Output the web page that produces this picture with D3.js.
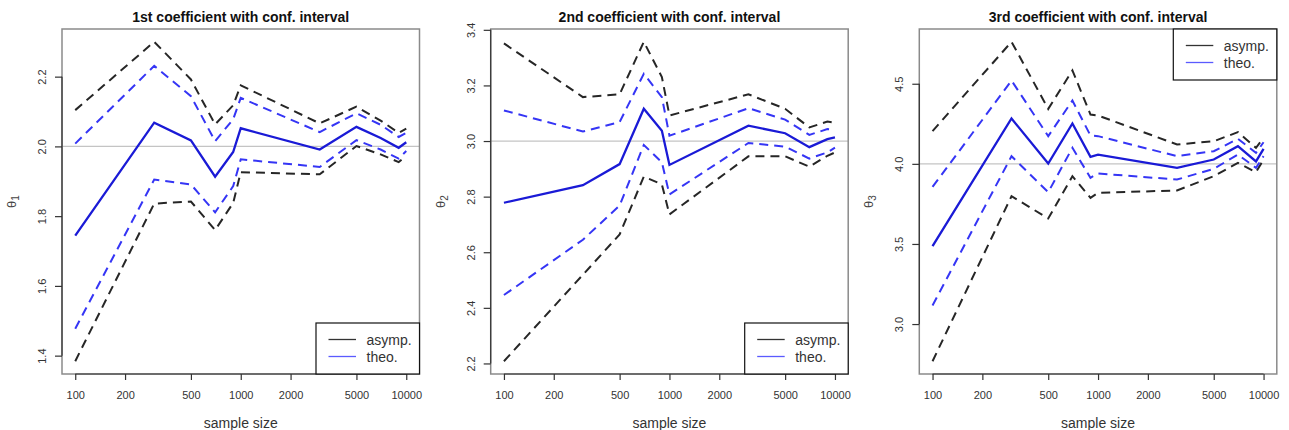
<!DOCTYPE html>
<html>
<head>
<meta charset="utf-8">
<script src="https://cdn.jsdelivr.net/npm/d3@7"></script>
<style>
  body { margin: 0; background: #fff; }
  text { font-family: "Liberation Sans", Arial, Helvetica, sans-serif; }
</style>
</head>
<body>
<script>
// tailles d'echantillon (axe x, echelle log)
const sampleSizes = [100, 300, 500, 700, 900, 1000, 3000, 5000, 7000, 9000, 10000];
const xTicks = [100, 200, 500, 1000, 2000, 5000, 10000];

const titles = ["1st coefficient with conf. interval", "2nd coefficient with conf. interval", "3rd coefficient with conf. interval"];
const trueValues = [2, 3, 4];
const yTicks1 = [1.4, 1.6, 1.8, 2.0, 2.2];
const yTicks2 = [2.2, 2.4, 2.6, 2.8, 3.0, 3.2, 3.4];
const yTicks3 = [3.0, 3.5, 4.0, 4.5];
const legendNames = ["asymp.", "theo."];

// 1er coefficient
const est1 = [1.744, 2.068, 2.017, 1.913, 1.984, 2.052, 1.991, 2.056, 2.024, 1.996, 2.012];
const asympHi1 = [2.104, 2.300, 2.192, 2.063, 2.118, 2.175, 2.066, 2.114, 2.074, 2.039, 2.051];
const theoHi1 = [2.008, 2.231, 2.144, 2.015, 2.078, 2.139, 2.041, 2.095, 2.062, 2.027, 2.039];
const theoLo1 = [1.477, 1.905, 1.891, 1.811, 1.886, 1.963, 1.941, 2.018, 1.991, 1.965, 1.987];
const asympLo1 = [1.384, 1.836, 1.842, 1.760, 1.838, 1.926, 1.920, 2.001, 1.977, 1.955, 1.972];

// 2eme coefficient
const est2 = [2.778, 2.841, 2.917, 3.116, 3.037, 2.914, 3.055, 3.028, 2.978, 3.007, 3.013];
const asympHi2 = [3.351, 3.158, 3.168, 3.357, 3.230, 3.092, 3.168, 3.116, 3.049, 3.070, 3.065];
const theoHi2 = [3.110, 3.034, 3.068, 3.242, 3.158, 3.019, 3.118, 3.077, 3.022, 3.043, 3.041];
const theoLo2 = [2.446, 2.645, 2.768, 2.986, 2.923, 2.808, 2.993, 2.980, 2.937, 2.959, 2.976];
const asympLo2 = [2.208, 2.519, 2.664, 2.872, 2.844, 2.736, 2.945, 2.945, 2.908, 2.947, 2.959];

// 3eme coefficient
const est3 = [3.486, 4.283, 4.002, 4.252, 4.044, 4.058, 3.975, 4.027, 4.110, 4.015, 4.094];
const asympHi3 = [4.204, 4.762, 4.343, 4.583, 4.308, 4.302, 4.121, 4.141, 4.198, 4.100, 4.162];
const theoHi3 = [3.856, 4.520, 4.173, 4.395, 4.177, 4.173, 4.048, 4.079, 4.156, 4.069, 4.135];
const theoLo3 = [3.116, 4.048, 3.823, 4.100, 3.913, 3.940, 3.902, 3.969, 4.058, 3.975, 4.048];
const asympLo3 = [2.768, 3.798, 3.659, 3.923, 3.788, 3.819, 3.834, 3.923, 4.006, 3.948, 4.027];

const panels = [
  { est: est1, aHi: asympHi1, tHi: theoHi1, tLo: theoLo1, aLo: asympLo1, yTicks: yTicks1, sub: "1", legendTop: false },
  { est: est2, aHi: asympHi2, tHi: theoHi2, tLo: theoLo2, aLo: asympLo2, yTicks: yTicks2, sub: "2", legendTop: false },
  { est: est3, aHi: asympHi3, tHi: theoHi3, tLo: theoLo3, aLo: asympLo3, yTicks: yTicks3, sub: "3", legendTop: true }
];

const panelLeft = [62, 490.7, 919.3];
const plotW = 357.5;
const plotTop = 29, plotBottom = 374;

const svg = d3.select("body").append("svg")
  .attr("width", 1289)
  .attr("height", 430);

panels.forEach((p, i) => {
  const g = svg.append("g").attr("transform", `translate(${panelLeft[i]},0)`);

  // echelle x log avec marge de 4% comme R
  const lx = [Math.log10(100), Math.log10(10000)];
  const padX = (lx[1] - lx[0]) * 0.04;
  const x = d3.scaleLog()
    .domain([Math.pow(10, lx[0] - padX), Math.pow(10, lx[1] + padX)])
    .range([0, plotW]);

  const all = [].concat(p.est, p.aHi, p.tHi, p.tLo, p.aLo);
  const ext = d3.extent(all);
  const padY = (ext[1] - ext[0]) * 0.04;
  const y = d3.scaleLinear()
    .domain([ext[0] - padY, ext[1] + padY])
    .range([plotBottom, plotTop]);

  // ligne de la vraie valeur
  g.append("line")
    .attr("x1", 0).attr("x2", plotW)
    .attr("y1", y(trueValues[i])).attr("y2", y(trueValues[i]))
    .attr("stroke", "#c4c4c4").attr("stroke-width", 1.2);

  const line = d3.line()
    .x((d, j) => x(sampleSizes[j]))
    .y(d => y(d));

  const series = [
    { v: p.aHi, color: "#262626", dash: "9,6", w: 2 },
    { v: p.aLo, color: "#262626", dash: "9,6", w: 2 },
    { v: p.tHi, color: "#3535f5", dash: "9,6", w: 2 },
    { v: p.tLo, color: "#3535f5", dash: "9,6", w: 2 },
    { v: p.est, color: "#1a1ad6", dash: null, w: 2.3 }
  ];

  series.forEach(s => {
    g.append("path")
      .attr("d", line(s.v))
      .attr("fill", "none")
      .attr("stroke", s.color)
      .attr("stroke-width", s.w)
      .attr("stroke-dasharray", s.dash)
      .attr("stroke-linejoin", "miter");
  });

  // cadre
  g.append("rect")
    .attr("x", 0).attr("y", plotTop)
    .attr("width", plotW).attr("height", plotBottom - plotTop)
    .attr("fill", "none")
    .attr("stroke", "#8a8a8a")
    .attr("stroke-width", 1.5);

  // axe x
  const xAxis = d3.axisBottom(x)
    .tickValues(xTicks)
    .tickFormat(d3.format("d"))
    .tickSize(6);
  const gx = g.append("g")
    .attr("transform", `translate(0,${plotBottom})`)
    .call(xAxis);
  gx.select(".domain").remove();
  gx.append("line")
    .attr("x1", x(xTicks[0])).attr("x2", x(xTicks[xTicks.length - 1]))
    .attr("stroke", "#333").attr("stroke-width", 1.2);
  gx.selectAll(".tick line").attr("stroke", "#333").attr("stroke-width", 1.2);
  gx.selectAll(".tick text")
    .attr("y", 21)
    .attr("dy", "0.32em")
    .attr("fill", "#333")
    .style("font-size", "11px")
    .style("font-family", "Liberation Sans, Arial, sans-serif");

  // axe y
  const yAxis = d3.axisLeft(y)
    .tickValues(p.yTicks)
    .tickFormat(d3.format(".1f"))
    .tickSize(7);
  const gy = g.append("g").call(yAxis);
  gy.select(".domain").remove();
  gy.append("line")
    .attr("y1", y(p.yTicks[0])).attr("y2", y(p.yTicks[p.yTicks.length - 1]))
    .attr("stroke", "#333").attr("stroke-width", 1.2);
  gy.selectAll(".tick line").attr("stroke", "#333").attr("stroke-width", 1.2);
  gy.selectAll(".tick text")
    .attr("x", 0)
    .attr("dy", 0)
    .attr("text-anchor", "middle")
    .attr("transform", "translate(-16,0) rotate(-90)")
    .attr("fill", "#333")
    .style("font-size", "11px")
    .style("font-family", "Liberation Sans, Arial, sans-serif");

  // titre
  g.append("text")
    .attr("x", plotW / 2)
    .attr("y", 21.5)
    .attr("text-anchor", "middle")
    .style("font-size", "14px")
    .style("font-weight", "bold")
    .attr("fill", "#111")
    .text(titles[i]);

  // titre axe x
  g.append("text")
    .attr("x", plotW / 2)
    .attr("y", 427.5)
    .attr("text-anchor", "middle")
    .style("font-size", "14px")
    .attr("fill", "#333")
    .text("sample size");

  // titre axe y (theta indice)
  const yl = g.append("text")
    .attr("transform", `translate(-46,${(plotTop + plotBottom) / 2}) rotate(-90)`)
    .attr("text-anchor", "middle")
    .style("font-size", "13px")
    .attr("fill", "#444");
  yl.append("tspan").text("θ");
  yl.append("tspan").attr("dy", 3).style("font-size", "10px").text(p.sub);

  // legende
  const lw = 103.5, lh = 51;
  const ly = p.legendTop ? plotTop : plotBottom - lh;
  const lg = g.append("g").attr("transform", `translate(${plotW - lw},${ly})`);
  lg.append("rect")
    .attr("width", lw).attr("height", lh)
    .attr("fill", "#fff")
    .attr("stroke", "#111").attr("stroke-width", 1.2);
  const legColors = ["#333", "#5a5aff"];
  legendNames.forEach((name, k) => {
    const yy = 16.5 + k * 17;
    lg.append("line")
      .attr("x1", 12.5).attr("x2", 40)
      .attr("y1", yy).attr("y2", yy)
      .attr("stroke", legColors[k]).attr("stroke-width", 1.3);
    lg.append("text")
      .attr("x", 50.5).attr("y", yy + 5)
      .style("font-size", "14px")
      .attr("fill", "#333")
      .text(name);
  });
});
</script>
</body>
</html>
